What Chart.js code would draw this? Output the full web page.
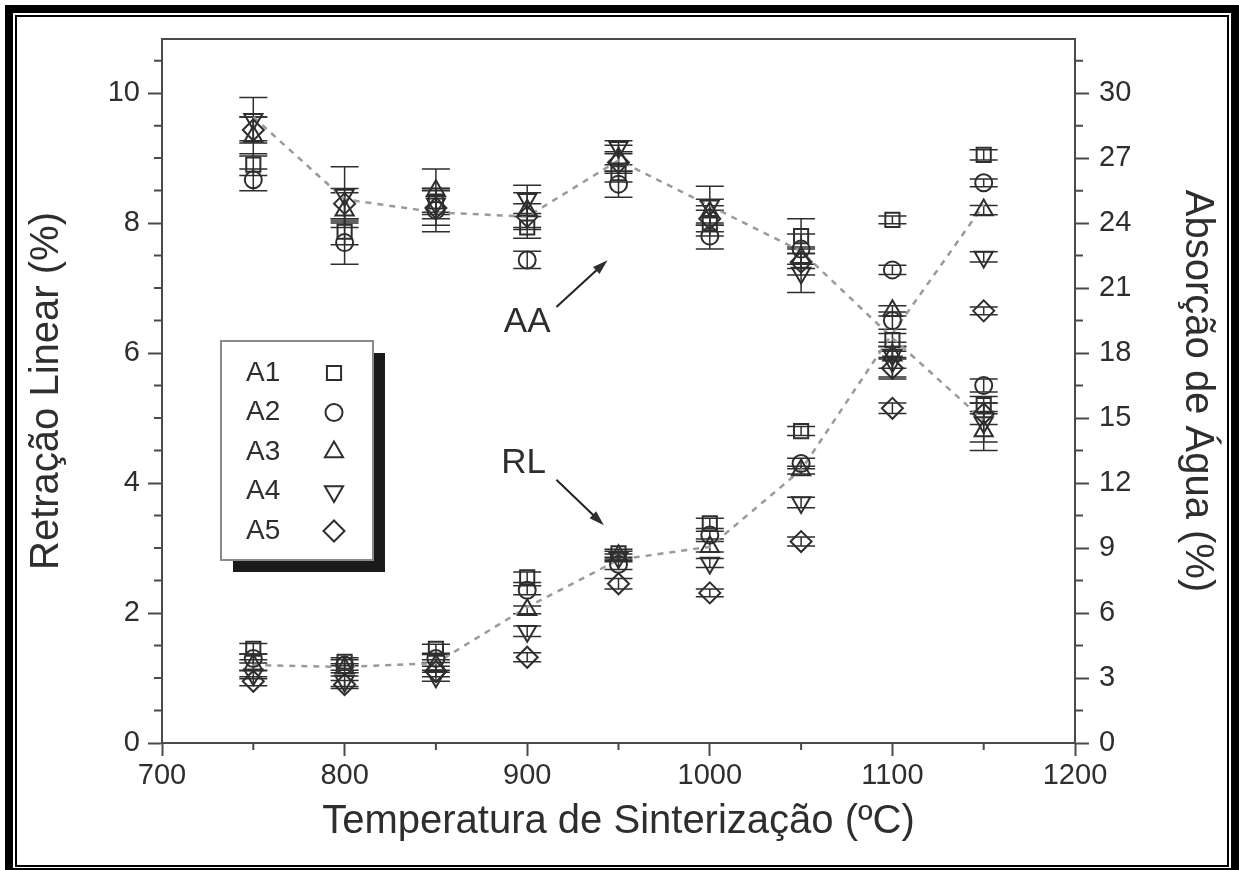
<!DOCTYPE html>
<html>
<head>
<meta charset="utf-8">
<script src="https://cdn.jsdelivr.net/npm/chart.js@4.4.1/dist/chart.umd.min.js"></script>
<style>
  html, body { margin: 0; padding: 0; background: #fff; }
  #wrap { width: 1239px; height: 870px; }
</style>
</head>
<body>
<div id="wrap"><canvas id="chart" width="1239" height="870"></canvas></div>
<script>
// temperaturas de sinterização (ºC)
const temps = [750, 800, 850, 900, 950, 1000, 1050, 1100, 1150];
const seriesNames = ['A1', 'A2', 'A3', 'A4', 'A5'];

// Absorção de água (%) - eixo da direita
const aaA1 = [26.7, 23.6, 25.0, 23.8, 26.3, 24.0, 23.4, 18.6, 15.6];
const aaA2 = [26.0, 23.1, 24.6, 22.3, 25.8, 23.4, 22.8, 19.5, 16.5];
const aaA3 = [28.0, 24.6, 25.5, 24.6, 27.0, 24.5, 22.4, 17.9, 14.4];
const aaA4 = [28.8, 25.3, 24.9, 25.1, 27.5, 24.8, 21.7, 17.6, 14.8];
const aaA5 = [28.3, 24.9, 24.7, 24.3, 26.8, 24.2, 22.2, 17.3, 15.2];
const aaErrA1 = [0.5, 0.6, 0.6, 0.5, 0.4, 0.6, 0.8, 0.3, 0.4];
const aaErrA2 = [0.5, 1.0, 1.0, 0.4, 0.6, 0.6, 0.7, 0.4, 0.3];
const aaErrA3 = [0.9, 0.8, 1.0, 0.8, 0.6, 0.6, 0.5, 0.6, 0.9];
const aaErrA4 = [1.0, 1.3, 0.7, 0.65, 0.3, 0.9, 0.9, 0.7, 0.9];
const aaErrA5 = [0.6, 0.7, 0.8, 0.6, 0.5, 0.6, 0.6, 0.5, 0.5];
const aaTrend = [28.9, 25.1, 24.5, 24.3, 26.9, 24.8, 22.7, 18.7, 14.9];

// Retração linear (%) - eixo da esquerda
const rlA1 = [1.45, 1.25, 1.45, 2.55, 2.92, 3.38, 4.80, 8.05, 9.05];
const rlA2 = [1.30, 1.20, 1.30, 2.35, 2.75, 3.20, 4.30, 7.28, 8.62];
const rlA3 = [1.20, 1.15, 1.20, 2.05, 2.88, 3.02, 4.20, 6.65, 8.20];
const rlA4 = [1.05, 0.95, 1.02, 1.72, 2.85, 2.77, 3.70, 5.97, 7.48];
const rlA5 = [0.95, 0.90, 1.10, 1.32, 2.45, 2.31, 3.10, 5.15, 6.65];
const rlErrA1 = [0.08, 0.06, 0.07, 0.08, 0.06, 0.08, 0.07, 0.06, 0.08];
const rlErrA2 = [0.07, 0.08, 0.06, 0.07, 0.08, 0.06, 0.08, 0.07, 0.06];
const rlErrA3 = [0.08, 0.07, 0.08, 0.06, 0.07, 0.08, 0.06, 0.08, 0.07];
const rlErrA4 = [0.06, 0.08, 0.07, 0.08, 0.06, 0.07, 0.08, 0.06, 0.08];
const rlErrA5 = [0.07, 0.06, 0.08, 0.07, 0.08, 0.06, 0.07, 0.08, 0.06];
const rlTrend = [1.20, 1.17, 1.23, 2.09, 2.82, 3.02, 4.20, 6.30, 8.28];

// ticks
const tempTicks = [700, 800, 900, 1000, 1100, 1200];
const tempMinor = [750, 850, 950, 1050, 1150];
const rlTicks = [0, 2, 4, 6, 8, 10];
const rlMinor = [0.5, 1, 1.5, 2.5, 3, 3.5, 4.5, 5, 5.5, 6.5, 7, 7.5, 8.5, 9, 9.5, 10.5];
const aaTicks = [0, 3, 6, 9, 12, 15, 18, 21, 24, 27, 30];
const aaMinor = [1.5, 4.5, 7.5, 10.5, 13.5, 16.5, 19.5, 22.5, 25.5, 28.5, 31.5];

const pointStyles = ['rect', 'circle', 'triangle', 'triangle', 'rectRot'];
const pointRotations = [0, 0, 0, 180, 0];
const pointRadii = [10, 8.5, 10.5, 10.5, 10.5];

const INK = '#2e2e2e';
const AXIS = '#4a4a4a';
const FONT = "'Liberation Sans', Arial, sans-serif";

const aaSeries = [aaA1, aaA2, aaA3, aaA4, aaA5];
const aaErrs = [aaErrA1, aaErrA2, aaErrA3, aaErrA4, aaErrA5];
const rlSeries = [rlA1, rlA2, rlA3, rlA4, rlA5];
const rlErrs = [rlErrA1, rlErrA2, rlErrA3, rlErrA4, rlErrA5];

const toPoints = (vals) => temps.map((t, i) => ({ x: t, y: vals[i] }));

function markerSet(vals, errs, k, axis) {
  return {
    label: seriesNames[k],
    data: toPoints(vals),
    errors: errs,
    yAxisID: axis,
    showLine: false,
    pointStyle: pointStyles[k],
    rotation: pointRotations[k],
    pointRadius: pointRadii[k],
    pointBorderWidth: 2,
    pointBorderColor: INK,
    pointBackgroundColor: 'rgba(0,0,0,0)',
    borderColor: INK,
    backgroundColor: 'rgba(0,0,0,0)'
  };
}

function trendSet(vals, axis) {
  return {
    label: 'trend',
    data: toPoints(vals),
    yAxisID: axis,
    showLine: true,
    borderColor: '#9a9a9a',
    borderWidth: 2.5,
    borderDash: [6, 6],
    pointRadius: 0,
    tension: 0,
    fill: false
  };
}

const datasets = [];
for (let k = 0; k < 5; k++) datasets.push(markerSet(aaSeries[k], aaErrs[k], k, 'y2'));
for (let k = 0; k < 5; k++) datasets.push(markerSet(rlSeries[k], rlErrs[k], k, 'y'));
datasets.push(trendSet(aaTrend, 'y2'));
datasets.push(trendSet(rlTrend, 'y'));

function drawMarker(ctx, style, rot, r, x, y) {
  ctx.beginPath();
  if (style === 'circle') {
    ctx.arc(x, y, r, 0, Math.PI * 2);
  } else if (style === 'rect') {
    const s = r * Math.SQRT1_2;
    ctx.rect(x - s, y - s, 2 * s, 2 * s);
  } else if (style === 'rectRot') {
    ctx.moveTo(x - r, y); ctx.lineTo(x, y - r); ctx.lineTo(x + r, y); ctx.lineTo(x, y + r);
    ctx.closePath();
  } else {
    let a = rot * Math.PI / 180;
    ctx.moveTo(x + Math.sin(a) * r, y - Math.cos(a) * r);
    a += 2 * Math.PI / 3;
    ctx.lineTo(x + Math.sin(a) * r, y - Math.cos(a) * r);
    a += 2 * Math.PI / 3;
    ctx.lineTo(x + Math.sin(a) * r, y - Math.cos(a) * r);
    ctx.closePath();
  }
  ctx.stroke();
}

const framePlugin = {
  id: 'frame',
  beforeDraw(chart) {
    const { ctx, width, height } = chart;
    ctx.save();
    ctx.fillStyle = '#fff'; ctx.fillRect(0, 0, width, height);
    ctx.fillStyle = '#000'; ctx.fillRect(5, 5, width - 5, height - 5);
    ctx.fillStyle = '#fff'; ctx.fillRect(13, 13, 1231 - 13, 868 - 13);
    ctx.fillStyle = '#000'; ctx.fillRect(15, 15, 1229 - 15, 867 - 15);
    ctx.fillStyle = '#fff'; ctx.fillRect(17, 17, 1227 - 17, 865 - 17);
    ctx.restore();
  }
};

const errorBarPlugin = {
  id: 'errorBars',
  beforeDatasetsDraw(chart) {
    const { ctx } = chart;
    const xs = chart.scales.x;
    ctx.save();
    ctx.strokeStyle = INK;
    ctx.lineWidth = 1.5;
    chart.data.datasets.forEach((ds) => {
      if (!ds.errors) return;
      const ys = chart.scales[ds.yAxisID];
      ds.data.forEach((p, j) => {
        const e = ds.errors[j];
        const x = xs.getPixelForValue(p.x);
        const top = ys.getPixelForValue(p.y + e);
        const bot = ys.getPixelForValue(p.y - e);
        ctx.beginPath();
        ctx.moveTo(x, top); ctx.lineTo(x, bot);
        ctx.moveTo(x - 14, top); ctx.lineTo(x + 14, top);
        ctx.moveTo(x - 14, bot); ctx.lineTo(x + 14, bot);
        ctx.stroke();
      });
    });
    ctx.restore();
  }
};

function arrow(ctx, x1, y1, x2, y2) {
  const ang = Math.atan2(y2 - y1, x2 - x1);
  ctx.beginPath();
  ctx.moveTo(x1, y1);
  ctx.lineTo(x2 - Math.cos(ang) * 8, y2 - Math.sin(ang) * 8);
  ctx.stroke();
  ctx.beginPath();
  ctx.moveTo(x2, y2);
  ctx.lineTo(x2 - Math.cos(ang - 0.3) * 16, y2 - Math.sin(ang - 0.3) * 16);
  ctx.lineTo(x2 - Math.cos(ang + 0.3) * 16, y2 - Math.sin(ang + 0.3) * 16);
  ctx.closePath();
  ctx.fill();
}

const overlayPlugin = {
  id: 'overlay',
  afterDraw(chart) {
    const { ctx, chartArea: a } = chart;
    const xs = chart.scales.x, yl = chart.scales.y, yr = chart.scales.y2;
    ctx.save();
    // top border of plot box
    ctx.strokeStyle = AXIS;
    ctx.lineWidth = 2;
    ctx.beginPath();
    ctx.moveTo(a.left - 1, a.top); ctx.lineTo(a.right + 1, a.top);
    ctx.stroke();
    // minor ticks
    ctx.beginPath();
    rlMinor.forEach(v => { const y = yl.getPixelForValue(v); ctx.moveTo(a.left - 8, y); ctx.lineTo(a.left, y); });
    aaMinor.forEach(v => { const y = yr.getPixelForValue(v); ctx.moveTo(a.right, y); ctx.lineTo(a.right + 8, y); });
    tempMinor.forEach(v => { const x = xs.getPixelForValue(v); ctx.moveTo(x, a.bottom); ctx.lineTo(x, a.bottom + 7); });
    ctx.stroke();

    // AA / RL labels with arrows
    ctx.fillStyle = INK;
    ctx.strokeStyle = '#222';
    ctx.lineWidth = 2;
    ctx.font = '35px ' + FONT;
    ctx.textAlign = 'center';
    ctx.textBaseline = 'middle';
    ctx.fillText('AA', xs.getPixelForValue(900), yl.getPixelForValue(6.48));
    arrow(ctx, xs.getPixelForValue(916), yl.getPixelForValue(6.71), xs.getPixelForValue(944), yl.getPixelForValue(7.43));
    ctx.fillText('RL', xs.getPixelForValue(898), yl.getPixelForValue(4.31));
    arrow(ctx, xs.getPixelForValue(916), yl.getPixelForValue(4.05), xs.getPixelForValue(942), yl.getPixelForValue(3.35));

    // legend box with shadow
    const bx = 221, by = 341, bw = 152, bh = 219;
    ctx.fillStyle = '#1a1a1a';
    ctx.fillRect(bx + 12, by + 12, bw, bh);
    ctx.fillStyle = '#fff';
    ctx.fillRect(bx, by, bw, bh);
    ctx.strokeStyle = '#8a8a8a';
    ctx.lineWidth = 2;
    ctx.strokeRect(bx, by, bw, bh);
    ctx.font = '28px ' + FONT;
    ctx.textAlign = 'left';
    ctx.fillStyle = INK;
    ctx.strokeStyle = INK;
    seriesNames.forEach((n, k) => {
      const y = by + 32 + k * 39.5;
      ctx.fillText(n, bx + 25, y);
      drawMarker(ctx, pointStyles[k], pointRotations[k], pointRadii[k], bx + 113, y);
    });
    ctx.restore();
  }
};

const titleFont = { family: FONT, size: 40 };
const tickFont = { family: FONT, size: 29 };
const plainLabel = (v) => String(v);

new Chart(document.getElementById('chart'), {
  type: 'scatter',
  data: { datasets },
  options: {
    responsive: false,
    animation: false,
    events: [],
    layout: { padding: { top: 39, left: 0, right: 0, bottom: 0 } },
    plugins: {
      legend: { display: false },
      tooltip: { enabled: false }
    },
    scales: {
      x: {
        type: 'linear',
        min: 700,
        max: 1200,
        afterBuildTicks: (s) => { s.ticks = tempTicks.map(v => ({ value: v })); },
        afterFit: (s) => { s.height = 127; },
        grid: { drawOnChartArea: false, tickLength: 13, tickWidth: 2, tickColor: AXIS },
        border: { display: true, color: AXIS, width: 2 },
        ticks: { font: tickFont, color: INK, padding: 3, maxRotation: 0, callback: plainLabel },
        title: { display: true, text: 'Temperatura de Sinterização (ºC)', font: titleFont, color: INK, padding: { top: 0, bottom: 24 } }
      },
      y: {
        type: 'linear',
        position: 'left',
        min: 0,
        max: 10.833,
        afterBuildTicks: (s) => { s.ticks = rlTicks.map(v => ({ value: v })); },
        afterFit: (s) => { s.width = 162; },
        grid: { drawOnChartArea: false, tickLength: 14, tickWidth: 2, tickColor: AXIS },
        border: { display: true, color: AXIS, width: 2 },
        ticks: { font: tickFont, color: INK, padding: 8, callback: plainLabel },
        title: { display: true, text: 'Retração Linear (%)', font: titleFont, color: INK, padding: { top: 23, bottom: 0 } }
      },
      y2: {
        type: 'linear',
        position: 'right',
        min: 0,
        max: 32.5,
        afterBuildTicks: (s) => { s.ticks = aaTicks.map(v => ({ value: v })); },
        afterFit: (s) => { s.width = 164; },
        grid: { drawOnChartArea: false, tickLength: 14, tickWidth: 2, tickColor: AXIS },
        border: { display: true, color: AXIS, width: 2 },
        ticks: { font: tickFont, color: INK, padding: 10, callback: plainLabel },
        title: { display: true, text: 'Absorção de Água (%)', font: titleFont, color: INK, padding: { top: 18, bottom: 0 } }
      }
    }
  },
  plugins: [framePlugin, errorBarPlugin, overlayPlugin]
});
</script>
</body>
</html>
